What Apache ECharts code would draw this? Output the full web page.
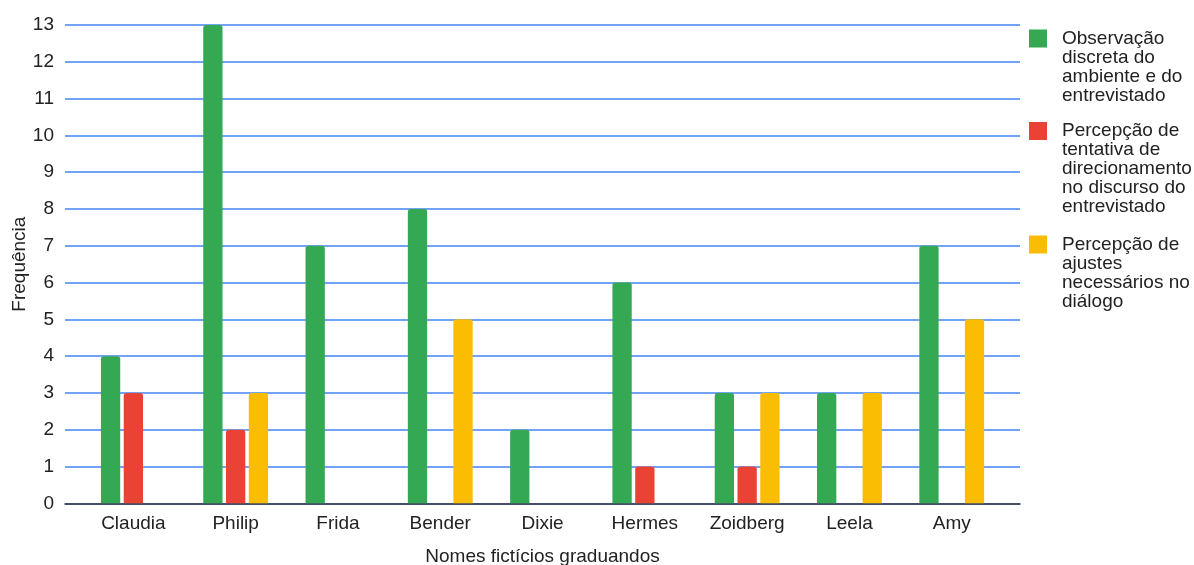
<!DOCTYPE html>
<html>
<head>
<meta charset="utf-8">
<script src="https://cdn.jsdelivr.net/npm/echarts@6/dist/echarts.min.js"></script>
<style>html,body{margin:0;padding:0;background:#fff;}#c{width:1194px;height:565px;}</style>
</head>
<body>
<div id="c"></div>
<script>
const categories = ['Claudia','Philip','Frida','Bender','Dixie','Hermes','Zoidberg','Leela','Amy'];
const seriesNames = [
  'Observação discreta do ambiente e do entrevistado',
  'Percepção de tentativa de direcionamento no discurso do entrevistado',
  'Percepção de ajustes necessários no diálogo'
];
const legendLines = [
  ['Observação','discreta do','ambiente e do','entrevistado'],
  ['Percepção de','tentativa de','direcionamento','no discurso do','entrevistado'],
  ['Percepção de','ajustes','necessários no','diálogo']
];
const observacao = [4, 13, 7, 8, 2, 6, 3, 3, 7];
const direcionamento = [3, 2, 0, 0, 0, 1, 1, 0, 0];
const ajustes = [0, 3, 0, 5, 0, 0, 3, 3, 5];
const yTicks = [0,1,2,3,4,5,6,7,8,9,10,11,12,13];
const colors = ['#34A853', '#EA4335', '#FBBC04'];

const FONT = 'Arial, "Liberation Sans", sans-serif';
const LH = 19;
const iconCenters = [38.5, 131, 244.5];

const legends = legendLines.map((lines, i) => {
  const n = lines.length;
  return {
    show: true,
    orient: 'vertical',
    left: 1029,
    top: iconCenters[i] - (2 * n - 1) * LH / 2,
    padding: 0,
    itemWidth: 18,
    itemHeight: 18,
    icon: 'rect',
    selectedMode: false,
    data: [seriesNames[i]],
    formatter: () => ' \n'.repeat(n - 1) + lines.join('\n'),
    textStyle: {
      fontFamily: FONT,
      fontSize: 19,
      lineHeight: LH,
      color: '#222',
      padding: [0, 0, 0, 10]
    }
  };
});

const dataSets = [observacao, direcionamento, ajustes];

const option = {
  animation: false,
  backgroundColor: '#fff',
  textStyle: { fontFamily: FONT },
  legend: legends,
  grid: [
    { left: 65, right: 174, top: 25, bottom: 61.7, containLabel: false, outerBoundsMode: 'none' },
    { left: 82.2, right: 191.1, top: 25, bottom: 61.7, containLabel: false, outerBoundsMode: 'none' }
  ],
  xAxis: [
    {
      gridIndex: 0, type: 'value', min: 0, max: 1,
      axisLine: { show: true, lineStyle: { color: '#333', width: 1.5 } },
      axisTick: { show: false }, axisLabel: { show: false }, splitLine: { show: false },
      name: 'Nomes fictícios graduandos', nameLocation: 'middle', nameGap: 44,
      nameMoveOverlap: false,
      nameTextStyle: { fontFamily: FONT, fontSize: 19, color: '#222' }
    },
    {
      gridIndex: 1, type: 'category', data: categories,
      axisLine: { show: false }, axisTick: { show: false },
      axisLabel: { fontFamily: FONT, fontSize: 19, color: '#222', margin: 11 }
    }
  ],
  yAxis: [
    {
      gridIndex: 0, type: 'value', min: 0, max: 13, interval: 1,
      axisLine: { show: false }, axisTick: { show: false },
      axisLabel: { fontFamily: FONT, fontSize: 19, color: '#222', margin: 11,
        formatter: v => yTicks.includes(v) ? String(v) : '' },
      splitLine: { show: true, lineStyle: { color: '#4285F4', width: 1.5 } },
      name: 'Frequência', nameLocation: 'middle', nameGap: 36,
      nameMoveOverlap: false,
      nameTextStyle: { fontFamily: FONT, fontSize: 19, color: '#222' }
    },
    {
      gridIndex: 1, type: 'value', min: 0, max: 13, interval: 1, show: false,
      splitLine: { show: false }
    }
  ],
  series: dataSets.map((d, i) => ({
    name: seriesNames[i],
    type: 'bar',
    xAxisIndex: 1, yAxisIndex: 1,
    data: d,
    barWidth: 19.3,
    barGap: '18%',
    itemStyle: { color: colors[i], borderRadius: [3, 3, 0, 0] }
  }))
};

const chart = echarts.init(document.getElementById('c'), null, { renderer: 'canvas' });
chart.setOption(option);
</script>
</body>
</html>
